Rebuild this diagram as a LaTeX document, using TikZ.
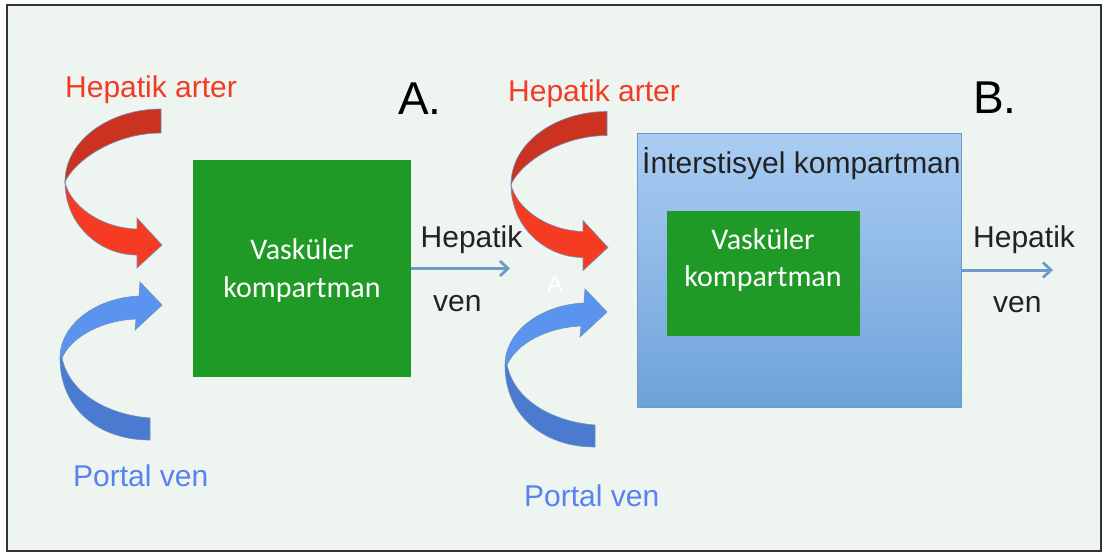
\documentclass[tikz,border=0pt]{standalone}
\usepackage{fontspec}
\setmainfont{Liberation Sans}
\newfontfamily\calibri{Carlito}
\usetikzlibrary{arrows.meta}
\definecolor{bgc}{HTML}{EEF4F0}
\definecolor{framec}{HTML}{333333}
\definecolor{boxgreen}{HTML}{1F9A27}
\definecolor{redtxt}{HTML}{F23B26}
\definecolor{bluetxt}{HTML}{5783F0}
\definecolor{txt}{HTML}{222222}
\definecolor{reddark}{HTML}{CB3320}
\definecolor{redbright}{HTML}{F53B22}
\definecolor{bluebright}{HTML}{5B94EF}
\definecolor{bluedark}{HTML}{4A7BD0}
\definecolor{ribbonline}{HTML}{7090B8}
\definecolor{boxtop}{HTML}{AACDF2}
\definecolor{boxbot}{HTML}{6EA2DA}
\definecolor{boxline}{HTML}{6A9AD2}
\definecolor{flowc}{HTML}{6E9BC8}
\begin{document}
\begin{tikzpicture}[x=1pt,y=-1pt,
  lbl/.style={inner sep=0pt, anchor=base west, font=\fontsize{30}{36}\selectfont},
  big/.style={inner sep=0pt, anchor=base west, text=black, font=\fontsize{46}{52}\selectfont},
  boxtxt/.style={inner sep=0pt, anchor=base, text=white, font=\calibri\fontsize{30}{36}\selectfont},
  greenbox/.style={fill=boxgreen, draw=none, inner sep=0pt},
  flow/.style={draw=flowc, line width=3pt, -{Straight Barb[length=8pt,width=15pt,line width=2.8pt]}},
  ribbon/.style={draw=ribbonline, line width=0.6pt},
  redarrow/.pic={
    \path[ribbon, fill=reddark] (161,109) .. controls (110,109) and (65,140) .. (65,182)
      .. controls (75,160) and (115,133) .. (161,133) -- cycle;
    \path[ribbon, fill=redbright] (65,182) .. controls (65,225) and (100,255) .. (137,255)
      -- (137,268) -- (162,245) -- (137,218) -- (137,229)
      .. controls (100,228) and (70,205) .. (65,182) -- cycle;
  },
  bluearrow/.pic={
    \path[ribbon, fill=bluedark] (60,358) .. controls (60,410) and (100,440) .. (150,440)
      -- (150,418) .. controls (110,415) and (70,395) .. (62,358) -- cycle;
    \path[ribbon, fill=bluebright] (60,358) .. controls (60,325) and (95,298) .. (139,296)
      -- (140,282) -- (162,305) -- (135,330) -- (136,319)
      .. controls (105,320) and (72,335) .. (62,358) -- cycle;
  }
]
\useasboundingbox (0,0) rectangle (1102,552);
\fill[white] (0,0) rectangle (1102,552);
\path[fill=bgc, draw=framec, line width=1.8pt] (7,5) rectangle (1101,551);

% curved arrows
\pic (ra1) at (0,0) {redarrow};
\pic (ba1) at (0,0) {bluearrow};
\pic (ra2) at (446,2.5) {redarrow};
\pic (ba2) at (445,7) {bluearrow};

% boxes
\node[greenbox, minimum width=218pt, minimum height=217pt] (vk1) at (302,268.5) {};
\node[draw=boxline, line width=0.6pt, top color=boxtop, bottom color=boxbot,
      minimum width=324pt, minimum height=274pt, inner sep=0pt] (ik) at (799,270) {};
\node[greenbox, minimum width=193pt, minimum height=125pt] (vk2) at (763.5,273.5) {};

% flow arrows
\coordinate (e1) at (510,268.5);
\coordinate (e2) at (1053,270);
\draw[flow] (vk1.east) -- (e1);
\draw[flow] (ik.east) -- (e2);

% texts
\node[lbl, text=redtxt] (ha1) at (65,97) {Hepatik arter};
\node[big] (la) at (398,114) {A.};
\node[lbl, text=redtxt] (ha2) at (508,101) {Hepatik arter};
\node[big] (lb) at (973,113) {B.};
\node[lbl, text=txt] (ikt) at (642,173) {İnterstisyel kompartman};
\node[boxtxt] (v1a) at (302,259) {Vasküler};
\node[boxtxt] (v1b) at (302,297) {kompartman};
\node[boxtxt] (v2a) at (763,249) {Vasküler};
\node[boxtxt] (v2b) at (763,286) {kompartman};
\node[lbl, text=txt] (hv1a) at (420.5,247) {Hepatik};
\node[lbl, text=txt] (hv1b) at (433,311) {ven};
\node[lbl, text=txt] (hv2a) at (973,247) {Hepatik};
\node[lbl, text=txt] (hv2b) at (993,312) {ven};
\node[lbl, text=bluetxt] (pv1) at (73,486) {Portal ven};
\node[lbl, text=bluetxt] (pv2) at (524,506) {Portal ven};
\node[inner sep=0pt, anchor=base west, text=white, font=\fontsize{24}{28}\selectfont] (sa) at (547,292) {A};
\end{tikzpicture}
\end{document}
